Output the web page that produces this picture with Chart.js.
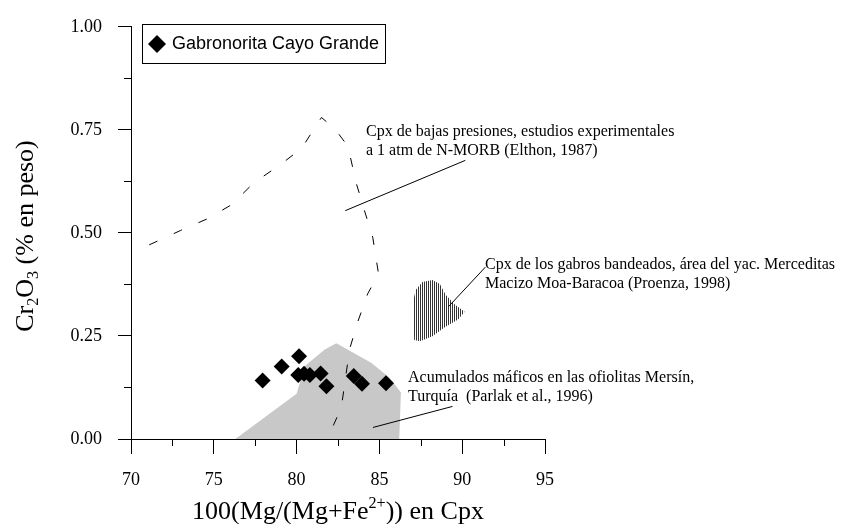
<!DOCTYPE html>
<html>
<head>
<meta charset="utf-8">
<script src="https://cdn.jsdelivr.net/npm/chart.js@4.4.1/dist/chart.umd.min.js"></script>
<style>
  html, body { margin: 0; padding: 0; background: #fff; }
</style>
</head>
<body>
<canvas id="cpxChart" width="849" height="524"></canvas>
<script>
// Gabronorita Cayo Grande: 100 Mg/(Mg+Fe2+) vs Cr2O3
const sampleMg = [77.95, 79.1, 80.15, 80.1, 80.45, 80.8, 81.45, 81.8, 83.45, 83.95, 85.4];
const sampleCr = [0.142, 0.176, 0.201, 0.155, 0.158, 0.155, 0.159, 0.128, 0.153, 0.134, 0.135];

// Elthon (1987) field, dashed
const elthonMg = [71.1, 73.0, 74.6, 76.1, 77.4, 79.0, 80.3, 81.5, 82.3, 83.1, 83.6, 84.1, 84.6, 84.95, 84.3, 83.7, 83.2, 82.7, 81.85];
const elthonCr = [0.471, 0.506, 0.534, 0.569, 0.621, 0.665, 0.705, 0.78, 0.753, 0.71, 0.621, 0.554, 0.489, 0.40, 0.353, 0.285, 0.218, 0.076, 0.0];

// Mersín cumulates (Parlak et al., 1996), grey field
const mersinMg = [76.3, 80.0, 80.5, 81.7, 82.4, 84.5, 85.6, 86.3, 86.2];
const mersinCr = [0.0, 0.11, 0.177, 0.217, 0.232, 0.185, 0.149, 0.113, 0.0];

// Moa-Baracoa banded gabbros (Proenza, 1998), hatched field
const moaMg = [87.1, 87.03, 87.2, 87.6, 88.2, 88.65, 89.0, 89.55, 90.15, 89.75, 88.95, 88.2, 87.45];
const moaCr = [0.24, 0.333, 0.362, 0.381, 0.386, 0.376, 0.35, 0.326, 0.309, 0.29, 0.271, 0.249, 0.237];

// leader lines from the fields to their notes
const leaderMg = [[82.94, 90.19], [89.17, 91.4], [84.61, 89.41]];
const leaderCr = [[0.554, 0.676], [0.321, 0.417], [0.028, 0.079]];

const xTicks = [70, 75, 80, 85, 90, 95];
const yTicks = [0, 0.25, 0.5, 0.75, 1.0];

const legendLabel = 'Gabronorita Cayo Grande';
const notes = [
  { lines: ['Cpx de bajas presiones, estudios experimentales', 'a 1 atm de N-MORB (Elthon, 1987)'], x: 366, y: 132 },
  { lines: ['Cpx de los gabros bandeados, área del yac. Merceditas', 'Macizo Moa-Baracoa (Proenza, 1998)'], x: 485, y: 265 },
  { lines: ['Acumulados máficos en las ofiolitas Mersín,', 'Turquía  (Parlak et al., 1996)'], x: 408, y: 378 }
];

const SERIF = '"Liberation Serif", "Times New Roman", serif';
const SANS = '"Liberation Sans", Arial, sans-serif';

function pts(xs, ys) {
  return xs.map((v, i) => ({ x: v, y: ys[i] }));
}

// vertical hatching for the Proenza field
function hatchPattern() {
  const c = document.createElement('canvas');
  c.width = 2; c.height = 2;
  const g = c.getContext('2d');
  g.fillStyle = '#333';
  g.fillRect(0, 0, 1, 2);
  return g.createPattern(c, 'repeat');
}

const minorTicks = {
  id: 'minorTicks',
  afterDraw(chart) {
    const { ctx, scales: { x, y } } = chart;
    ctx.save();
    ctx.strokeStyle = '#000';
    ctx.lineWidth = 1;
    ctx.beginPath();
    for (let i = 0; i < xTicks.length - 1; i++) {
      const px = Math.round(x.getPixelForValue((xTicks[i] + xTicks[i + 1]) / 2)) + 0.5;
      ctx.moveTo(px, x.top);
      ctx.lineTo(px, x.top + 7);
    }
    for (let i = 0; i < yTicks.length - 1; i++) {
      const py = Math.round(y.getPixelForValue((yTicks[i] + yTicks[i + 1]) / 2)) + 0.5;
      ctx.moveTo(y.right, py);
      ctx.lineTo(y.right - 7, py);
    }
    ctx.stroke();
    ctx.restore();
  }
};

// text runs with sub/superscripts
function richText(ctx, parts, size) {
  let w = 0;
  for (const p of parts) {
    ctx.font = (p.small ? size * 0.62 : size) + 'px ' + SERIF;
    p.w = ctx.measureText(p.t).width;
    w += p.w;
  }
  return w;
}
function drawRich(ctx, parts, size, x, y) {
  let cx = x;
  for (const p of parts) {
    ctx.font = (p.small ? size * 0.62 : size) + 'px ' + SERIF;
    ctx.fillText(p.t, cx, y + (p.dy || 0));
    cx += p.w;
  }
}

const axisTitles = {
  id: 'axisTitles',
  afterDraw(chart) {
    const { ctx, chartArea } = chart;
    const size = 26;
    ctx.save();
    ctx.fillStyle = '#000';
    ctx.textBaseline = 'alphabetic';
    ctx.textAlign = 'left';
    const xt = [{ t: '100(Mg/(Mg+Fe' }, { t: '2+', small: true, dy: -11 }, { t: ')) en Cpx' }];
    const xw = richText(ctx, xt, size);
    const cx = (chartArea.left + chartArea.right) / 2;
    drawRich(ctx, xt, size, cx - xw / 2, 519);

    const yt = [{ t: 'Cr' }, { t: '2', small: true, dy: 5 }, { t: 'O' }, { t: '3', small: true, dy: 5 }, { t: ' (% en peso)' }];
    const yw = richText(ctx, yt, size);
    ctx.translate(33, 236);
    ctx.rotate(-Math.PI / 2);
    drawRich(ctx, yt, size, -yw / 2, 0);
    ctx.restore();
  }
};

const notesAndLegend = {
  id: 'notesAndLegend',
  afterDraw(chart) {
    const { ctx } = chart;
    ctx.save();
    ctx.fillStyle = '#000';
    ctx.textBaseline = 'middle';
    ctx.textAlign = 'left';
    ctx.font = '16px ' + SERIF;
    notes.forEach(n => {
      n.lines.forEach((l, i) => ctx.fillText(l, n.x, n.y + i * 18.5));
    });

    // legend box
    ctx.strokeStyle = '#000';
    ctx.lineWidth = 1;
    ctx.fillStyle = '#fff';
    ctx.fillRect(142, 24, 243, 39);
    ctx.strokeRect(142.5, 24.5, 243, 39);
    ctx.fillStyle = '#000';
    ctx.beginPath();
    ctx.moveTo(148, 44);
    ctx.lineTo(157, 35);
    ctx.lineTo(166, 44);
    ctx.lineTo(157, 53);
    ctx.closePath();
    ctx.fill();
    ctx.font = '18px ' + SANS;
    ctx.fillText(legendLabel, 172, 44.5);
    ctx.restore();
  }
};

const leaderSets = leaderMg.map((xs, i) => ({
  type: 'line',
  data: pts(xs, leaderCr[i]),
  borderColor: '#000',
  borderWidth: 1,
  pointRadius: 0,
  fill: false
}));

new Chart(document.getElementById('cpxChart'), {
  type: 'scatter',
  data: {
    datasets: [
      {
        label: legendLabel,
        data: pts(sampleMg, sampleCr),
        pointStyle: 'rectRot',
        pointRadius: 8,
        backgroundColor: '#000',
        borderColor: '#000',
        borderWidth: 0
      },
      {
        type: 'line',
        data: pts(elthonMg, elthonCr),
        borderColor: '#000',
        borderWidth: 1,
        borderDash: [9, 18],
        pointRadius: 0,
        fill: false
      },
      ...leaderSets,
      {
        type: 'line',
        data: pts(moaMg, moaCr),
        borderWidth: 0,
        borderColor: 'rgba(0,0,0,0)',
        backgroundColor: hatchPattern(),
        pointRadius: 0,
        fill: 'shape'
      },
      {
        type: 'line',
        data: pts(mersinMg, mersinCr),
        borderWidth: 0,
        borderColor: 'rgba(0,0,0,0)',
        backgroundColor: 'rgb(200,200,200)',
        pointRadius: 0,
        fill: 'shape'
      }
    ]
  },
  options: {
    responsive: false,
    animation: false,
    layout: { padding: { left: 0, top: 22, right: 304, bottom: 0 } },
    plugins: {
      legend: { display: false },
      tooltip: { enabled: false }
    },
    scales: {
      x: {
        type: 'linear',
        min: 70,
        max: 95,
        afterBuildTicks: s => { s.ticks = xTicks.map(v => ({ value: v })); },
        afterFit: s => { s.height = 85; },
        grid: { drawOnChartArea: false, drawTicks: true, tickLength: 15, color: '#000' },
        border: { display: true, color: '#000', width: 1 },
        ticks: {
          color: '#000',
          font: { family: SERIF, size: 18 },
          padding: 15,
          maxRotation: 0,
          autoSkip: false
        }
      },
      y: {
        type: 'linear',
        min: 0,
        max: 1,
        afterBuildTicks: s => { s.ticks = yTicks.map(v => ({ value: v })); },
        afterFit: s => { s.width = 131; },
        grid: { drawOnChartArea: false, drawTicks: true, tickLength: 13, color: '#000' },
        border: { display: true, color: '#000', width: 1 },
        ticks: {
          color: '#000',
          font: { family: SERIF, size: 18 },
          padding: 16,
          callback: v => Number(v).toFixed(2)
        }
      }
    }
  },
  plugins: [minorTicks, axisTitles, notesAndLegend]
});
</script>
</body>
</html>
